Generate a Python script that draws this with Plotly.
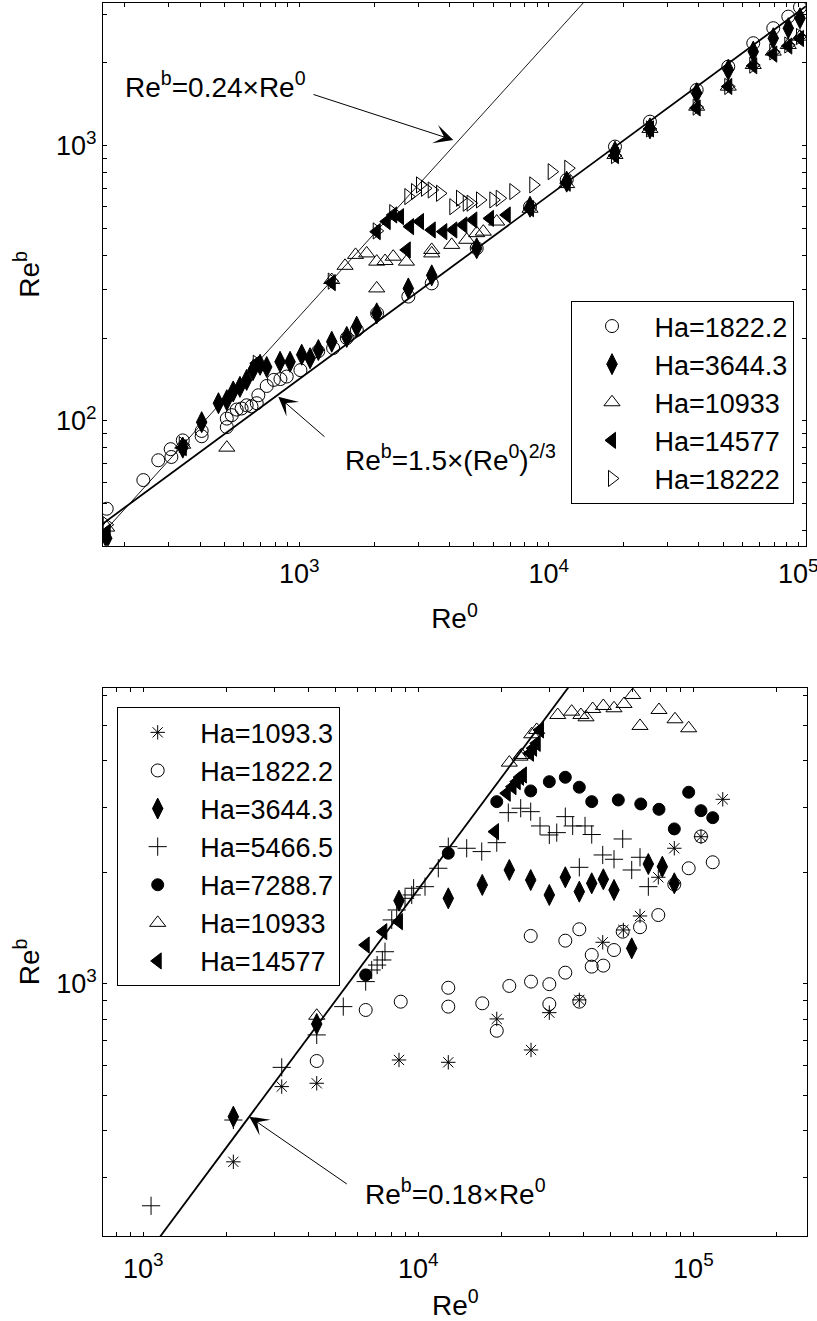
import numpy as np
import plotly.graph_objects as go

FONT = "Liberation Sans, Arial, Helvetica, sans-serif"
W, H = 817, 1321

# ---------------- top panel data (Re0, Reb) ----------------
top_circ_re0 = [169, 237, 272, 305, 307, 341, 406, 406, 512, 512, 536, 561, 587, 615, 643, 675, 685, 740, 790, 840,
                890, 1010, 1190, 1366, 1550, 1700, 2050, 2735, 3394, 5140, 8409, 11795, 18420, 25440, 39150, 52410,
                66010, 79400, 91200, 101600]
top_circ_reb = [48, 61, 72, 79, 74, 85, 92, 88, 95, 102, 105, 110, 111, 114, 113, 116, 124, 134, 141, 142,
                145, 153, 179, 184, 200, 214, 246, 283, 316, 424, 600, 751, 992, 1222, 1593, 1936,
                2355, 2670, 2941, 3182]

top_diam_re0 = [169, 341, 406, 474, 512, 543, 578, 615, 652, 696, 740, 837, 918, 1022, 1104, 1192, 1349, 1549, 1698,
                2043, 2735, 3394, 5140, 8409, 11795, 18420, 25440, 39150, 52410, 66010, 79400, 91200, 101600]
top_diam_reb = [37.5, 80, 99, 116, 119, 128, 133, 141, 153, 160, 157, 164, 164, 174, 169, 181, 194, 202, 220,
                246, 303, 338, 424, 600, 740, 951, 1155, 1550, 1884, 2195, 2455, 2670, 2901]

top_tri_re0 = [169, 341, 512, 675, 1349, 1525, 1680, 1862, 2043, 2043, 2206, 2379, 2688, 3394, 3394, 4082, 4688, 5140,
               5463, 6182, 8409, 11795, 18420, 25440, 39150, 52410, 66010, 79400, 91200, 101600]
top_tri_reb = [41, 82, 80, 160, 325, 366, 401, 406, 379, 303, 381, 395, 379, 406, 418, 436, 455, 481,
               487, 530, 590, 725, 925, 1150, 1385, 1638, 1963, 2195, 2321, 2488]

top_tril_re0 = [169, 341, 675, 1349, 2043, 2240, 2379, 2533, 2695, 2779, 3046, 3394, 3777, 4142, 4544, 4983, 5810, 6781,
                8409, 11795, 18420, 25440, 39150, 52410, 66010, 79400, 91200, 101600]
top_tril_reb = [39.5, 80, 162, 318, 487, 530, 560, 552, 418, 508, 530, 494, 487, 494, 515, 537, 544, 560,
                590, 730, 920, 1150, 1370, 1640, 1950, 2150, 2300, 2450]

top_trir_re0 = [169, 341, 675, 1349, 2043, 2379, 2735, 2909, 3046, 3190, 3394, 3664, 4142, 4407, 4688, 4860, 5301,
                5993, 6358, 7207, 8666, 10270, 11970, 18420, 25440, 39150, 52410, 66010, 79400, 91200, 101600]
top_trir_reb = [42, 82, 162, 322, 490, 571, 653, 681, 720, 700, 690, 671, 600, 644, 618, 618, 635,
                635, 644, 681, 720, 804, 828, 920, 1150, 1380, 1640, 1960, 2190, 2320, 2490]

# ---------------- bottom panel data (Re0, Reb) ----------------
bot_ast_re0 = [2125, 3186, 4271, 8505, 12850, 19280, 25690, 29940, 38490, 46820, 55650, 63970, 74570, 85250,
               106600, 127900]
bot_ast_reb = [330, 527, 538, 622, 613, 803, 662, 835, 904, 1294, 1397, 1524, 1939, 2323, 2496, 3150]

bot_circ_re0 = [4271, 6436, 8630, 12850, 12850, 17080, 19280, 21420, 25690, 25620, 29940, 29940, 34230, 34230,
                38490, 38490, 42700, 42700, 47060, 51460, 55340, 63970, 74570, 85250, 96160, 106600, 117600]
bot_circ_reb = [618, 849, 894, 975, 867, 885, 746, 986, 1013, 1346, 997, 881, 1071, 1307,
                894, 1403, 1112, 1196, 1119, 1233, 1382, 1421, 1533, 1856, 2051, 2500, 2129]

bot_diam_re0 = [2125, 4271, 8505, 12850, 17080, 21420, 25620, 29940, 34230, 38490, 42700, 47060, 51460, 59680,
                68590, 77120, 85250]
bot_diam_reb = [437, 778, 1676, 1701, 1849, 2029, 1906, 1737, 1939, 1773, 1868, 1915, 1792, 1246,
                2106, 2071, 1868]

bot_plus_re0 = [1067, 2125, 3186, 4271, 5334, 6436, 6768, 7082, 7398, 7564, 8003, 8343, 8945, 9463, 9612, 10575,
                11820, 12850, 14990, 17000, 19280, 21240, 23560, 25620, 27700, 29940, 31860, 34230, 36410, 38490,
                40370, 42700, 46820, 51460, 55340, 59680, 63970, 68590]
bot_plus_reb = [251, 428, 594, 727, 867, 1013, 1089, 1123, 1159, 1220, 1487, 1582, 1701, 1737, 1811, 1829,
                2051, 2346, 2323, 2275, 2405, 2899, 2980, 2917, 2669, 2523, 2560, 2828, 2669, 2063,
                2669, 2530, 2228, 2169, 2461, 2029, 2196, 1829]

bot_fcirc_re0 = [6436, 12850, 19280, 25620, 29940, 34230, 38490, 42700, 53350, 64380, 74990, 85250, 96160,
                 106600, 117600]
bot_fcirc_reb = [1056, 2252, 3105, 3319, 3516, 3613, 3396, 3105, 3137, 3060, 2960, 2620, 3292, 2935, 2810]

bot_tri_re0 = [4271, 21420, 23430, 23760, 25840, 26940, 32130, 36110, 39000, 40710, 43050, 47060, 51460, 55970,
               60190, 63970, 74990, 85760, 96160]
bot_tri_reb = [819, 3958, 4108, 4152, 4722, 4851, 5324, 5435, 5324, 5248, 5527, 5631, 5551, 5702,
               6031, 4973, 5493, 5184, 4901]

bot_tril_re0 = [6436, 7457, 8500, 19000, 20960, 22000, 22790, 23430, 24000, 25470, 26130, 26940, 27700]
bot_tril_reb = [1272, 1382, 1471, 2576, 3271, 3408, 3516, 3613, 3665, 4196, 4328, 4462, 4851]

# reference-line parameters
top_thin_coef = 0.24
top_thick_coef = 1.42   # drawn line (labelled 1.5) as it sits in the picture
top_thick_exp = 2.0 / 3.0
bot_line_coef = 0.18

# axis ranges (log10)
top_xr = [2.213, 5.031]
top_yr = [1.547, 3.518]
bot_xr = [2.8545, 5.4143]
bot_yr = [2.318, 3.80]

# tick positions: every 1..9 x 10^k, labels only at decades
decades = [1, 2, 3, 4, 5]
tick_vals = [m * 10 ** k for k in decades for m in range(1, 10)]
tick_text = ["10<sup>%d</sup>" % k if m == 1 else "" for k in decades for m in range(1, 10)]
decade_vals = [10 ** k for k in decades]

fig = go.Figure()

def mk(x, y, name, symbol, size, xa, ya, leg):
    return go.Scatter(
        x=x, y=y, mode="markers", name="\u00a0\u00a0\u00a0" + name, xaxis=xa, yaxis=ya, legend=leg,
        marker=dict(symbol=symbol, size=size, color="black", line=dict(color="black", width=1)),
    )

# reference lines
xt = np.logspace(top_xr[0], top_xr[1], 200)
fig.add_trace(go.Scatter(x=xt, y=top_thin_coef * xt, mode="lines", line=dict(color="black", width=0.9),
                         showlegend=False, xaxis="x", yaxis="y", hoverinfo="skip"))
fig.add_trace(go.Scatter(x=xt, y=top_thick_coef * xt ** top_thick_exp, mode="lines",
                         line=dict(color="black", width=1.8), showlegend=False, xaxis="x", yaxis="y",
                         hoverinfo="skip"))
xb = np.logspace(bot_xr[0], bot_xr[1], 200)
fig.add_trace(go.Scatter(x=xb, y=bot_line_coef * xb, mode="lines", line=dict(color="black", width=1.8),
                         showlegend=False, xaxis="x2", yaxis="y2", hoverinfo="skip"))

# top series
fig.add_trace(mk(top_circ_re0, top_circ_reb, "Ha=1822.2", "circle-open", 13, "x", "y", "legend"))
fig.add_trace(mk(top_diam_re0, top_diam_reb, "Ha=3644.3", "diamond-tall", 15, "x", "y", "legend"))
fig.add_trace(mk(top_tri_re0, top_tri_reb, "Ha=10933", "triangle-up-open", 14, "x", "y", "legend"))
fig.add_trace(mk(top_tril_re0, top_tril_reb, "Ha=14577", "triangle-left", 14, "x", "y", "legend"))
fig.add_trace(mk(top_trir_re0, top_trir_reb, "Ha=18222", "triangle-right-open", 14, "x", "y", "legend"))

# bottom series
fig.add_trace(mk(bot_ast_re0, bot_ast_reb, "Ha=1093.3", "asterisk-open", 12, "x2", "y2", "legend2"))
fig.add_trace(mk(bot_circ_re0, bot_circ_reb, "Ha=1822.2", "circle-open", 13, "x2", "y2", "legend2"))
fig.add_trace(mk(bot_diam_re0, bot_diam_reb, "Ha=3644.3", "diamond-tall", 15, "x2", "y2", "legend2"))
fig.add_trace(mk(bot_plus_re0, bot_plus_reb, "Ha=5466.5", "cross-thin-open", 13, "x2", "y2", "legend2"))
fig.add_trace(mk(bot_fcirc_re0, bot_fcirc_reb, "Ha=7288.7", "circle", 12, "x2", "y2", "legend2"))
fig.add_trace(mk(bot_tri_re0, bot_tri_reb, "Ha=10933", "triangle-up-open", 14, "x2", "y2", "legend2"))
fig.add_trace(mk(bot_tril_re0, bot_tril_reb, "Ha=14577", "triangle-left", 14, "x2", "y2", "legend2"))

def ax(rng, domain, anchor, title, standoff, lblstand):
    return dict(
        type="log", range=rng, domain=domain, anchor=anchor,
        showline=True, linecolor="black", linewidth=1.3, mirror="allticks",
        ticks="inside", ticklen=4, tickwidth=1, tickcolor="black",
        showgrid=False, zeroline=False, tickmode="array", tickvals=tick_vals, ticktext=tick_text,
        tickfont=dict(family=FONT, size=27, color="black"),
        ticklabeloverflow="allow", ticklabelstandoff=lblstand,
        title=dict(text=title, font=dict(family=FONT, size=28, color="black"), standoff=standoff),
        automargin=False,
    )

def major_overlay(rng, domain, anchor, over):
    # longer tick marks at the decades, drawn on an overlaid axis without labels
    return dict(
        type="log", range=rng, domain=domain, anchor=anchor, overlaying=over,
        showline=False, mirror="allticks", ticks="inside", ticklen=8, tickwidth=1, tickcolor="black",
        showgrid=False, zeroline=False, tickmode="array", tickvals=decade_vals, showticklabels=False,
        automargin=False,
    )

xd_top = [103 / W, 806 / W]
yd_top = [1 - 545.7 / H, 1 - 3 / H]
xd_bot = [103.3 / W, 807.3 / W]
yd_bot = [1 - 1236 / H, 1 - 687.7 / H]

LEGFONT = dict(family=FONT, size=27, color="black")
fig.update_layout(
    template="none",
    width=W, height=H,
    margin=dict(l=0, r=0, t=0, b=0),
    paper_bgcolor="white", plot_bgcolor="white",
    font=dict(family=FONT, size=28, color="black"),
    xaxis=ax(top_xr, xd_top, "y", "Re<sup>0</sup>", 20, 4),
    yaxis=ax(top_yr, yd_top, "x", "Re<sup>b</sup>", 8, 0),
    xaxis2=ax(bot_xr, xd_bot, "y2", "Re<sup>0</sup>", 14, 8),
    yaxis2=ax(bot_yr, yd_bot, "x2", "Re<sup>b</sup>", 8, 0),
    xaxis3=major_overlay(top_xr, xd_top, "y", "x"),
    yaxis3=major_overlay(top_yr, yd_top, "x", "y"),
    xaxis4=major_overlay(bot_xr, xd_bot, "y2", "x2"),
    yaxis4=major_overlay(bot_yr, yd_bot, "x2", "y2"),
    legend=dict(x=571 / W, y=1 - 301 / H, xanchor="left", yanchor="top",
                bgcolor="white", bordercolor="black", borderwidth=1,
                font=LEGFONT, indentation=20),
    legend2=dict(x=116.7 / W, y=1 - 707.3 / H, xanchor="left", yanchor="top",
                 bgcolor="white", bordercolor="black", borderwidth=1,
                 font=LEGFONT, indentation=20),
    showlegend=True,
)

def px(xp, yp):
    return xp / W, 1 - yp / H

annos = []
# text labels
for text, (xp, yp) in [
    ("Re<sup>b</sup>=0.24\u00d7Re<sup>0</sup>", (123, 85)),
    ("Re<sup>b</sup>=1.5\u00d7(Re<sup>0</sup>)<sup>2/3</sup>", (343, 458)),
    ("Re<sup>b</sup>=0.18\u00d7Re<sup>0</sup>", (363, 1192)),
]:
    x, y = px(xp, yp)
    annos.append(dict(text=text, x=x, y=y, xref="paper", yref="paper", xanchor="left", yanchor="middle",
                      showarrow=False, font=dict(family=FONT, size=28, color="black")))
# arrows (tip, tail offset in pixels)
for (tx, ty), (dx, dy) in [
    ((453.3, 140), (-141.3, -46)),
    ((278.3, 396.7), (47.7, 41.3)),
    ((249.3, 1116.7), (99, 68.3)),
]:
    x, y = px(tx, ty)
    annos.append(dict(text="", x=x, y=y, xref="paper", yref="paper", ax=dx, ay=dy,
                      showarrow=True, arrowhead=3, arrowsize=3.2, arrowwidth=1, arrowcolor="black",
                      standoff=0, startstandoff=0))
fig.update_layout(annotations=annos)

fig.write_html("out.html", config={"displayModeBar": False},
               post_script="document.body.style.margin='0px';document.body.style.padding='0px';")
